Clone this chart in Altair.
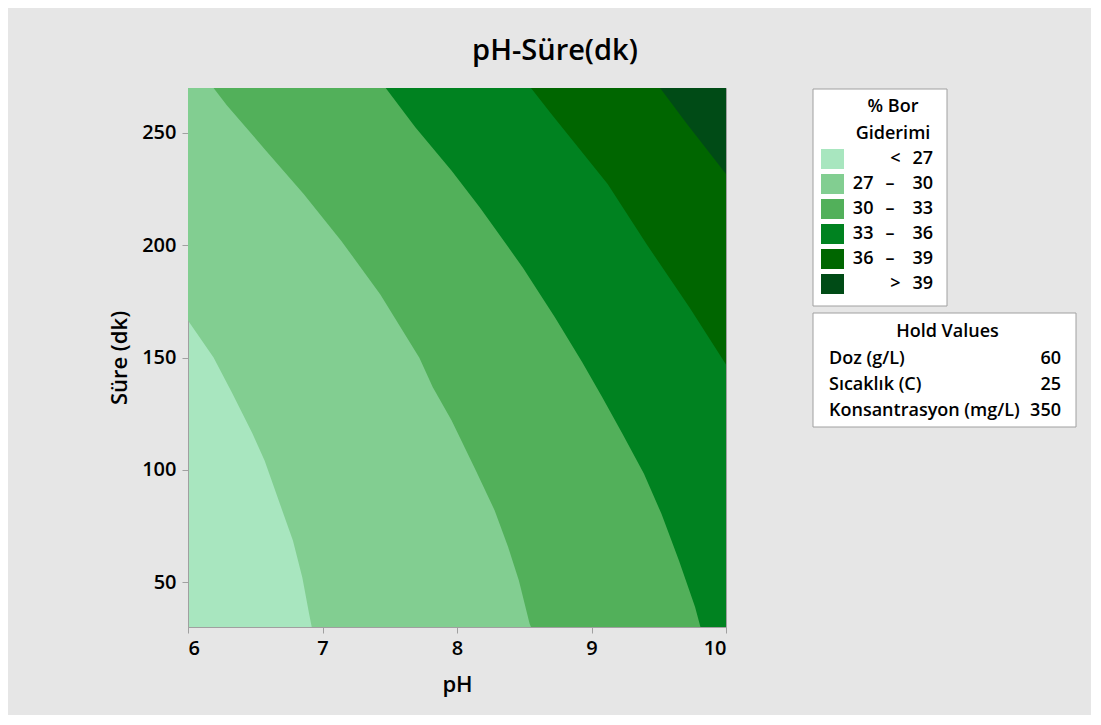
import altair as alt
import pandas as pd

# ---- data -------------------------------------------------------------
levels = ["< 27", "27 – 30", "30 – 33", "33 – 36", "36 – 39", "> 39"]
colors = ["#A8E6BF", "#82CE91", "#52B05A", "#008220", "#006600", "#004B16"]

# lower-left contour boundary of each band (band runs from boundary to pH 10)
b27_sure = [30, 36, 52, 68.5, 82, 104, 116, 134, 150, 166.5, 270]
b27_ph = [6.92, 6.90, 6.85, 6.78, 6.70, 6.57, 6.48, 6.33, 6.19, 6.0, 6.0]

b30_sure = [30, 31.5, 50.7, 65.6, 81.9, 99.7, 122, 136.8, 149.9, 178.1, 201.9, 222.8, 242.1, 262.2, 270]
b30_ph = [8.55, 8.54, 8.46, 8.38, 8.28, 8.14, 7.96, 7.82, 7.72, 7.43, 7.14, 6.86, 6.58, 6.29, 6.19]

b33_sure = [30, 38.9, 59.6, 80.4, 98.2, 116, 132.3, 148, 167.7, 190, 216.8, 233.2, 252.5, 270]
b33_ph = [9.81, 9.77, 9.65, 9.52, 9.39, 9.23, 9.08, 8.93, 8.73, 8.49, 8.17, 7.96, 7.69, 7.47]

b36_sure = [146.9, 172.2, 200.4, 227.2, 246.6, 258.5, 270]
b36_ph = [10.0, 9.73, 9.41, 9.12, 8.86, 8.70, 8.55]

b39_sure = [231.7, 254, 270]
b39_ph = [10.0, 9.71, 9.51]

legend_title = ["% Bor", "Giderimi"]
hold_title = "Hold Values"
hold_names = ["Doz (g/L)", "Sıcaklık (C)", "Konsantrasyon (mg/L)"]
hold_values = ["60", "25", "350"]

x_ticks = [6, 7, 8, 9, 10]
y_ticks = [50, 100, 150, 200, 250]

# ---- styling -------------------------------------------------------------
FONT = "Open Sans"
GRAY = "#A0A0A0"
EN, TH = "\u2002", "\u2009"


def disp(lbl):
    if lbl[0] in "<>":
        return lbl[0] + EN + TH + lbl[2:]
    a, b = lbl.split(" – ")
    return a + EN + TH + "–" + EN + EN + b


label_expr = " : ".join(
    "datum.label == '%s' ? '%s'" % (l, disp(l)) for l in levels
) + " : datum.label"

legend = alt.Legend(
    title=None,
    orient="none", legendX=633, legendY=59.5, padding=0,
    symbolType="M-1,-0.87H1V0.87H-1Z", symbolSize=529,
    symbolStrokeWidth=0, symbolOpacity=1,
    labelExpr=label_expr, labelFont=FONT, labelFontSize=18,
    labelFontWeight=600, labelColor="black", labelAlign="right",
    labelOffset=89, labelLimit=400, rowPadding=3,
)

xs = alt.Scale(domain=[6, 10], nice=False, zero=False)
ys = alt.Scale(domain=[30, 270], nice=False, zero=False)
xaxis = alt.Axis(values=x_ticks, tickSize=6, labelPadding=5, titlePadding=16)
yaxis = alt.Axis(values=y_ticks, tickSize=6, labelPadding=6, titlePadding=10)
cscale = alt.Scale(domain=levels, range=colors)

bands = [
    (levels[1], b27_sure, b27_ph),
    (levels[2], b30_sure, b30_ph),
    (levels[3], b33_sure, b33_ph),
    (levels[4], b36_sure, b36_ph),
    (levels[5], b39_sure, b39_ph),
]

layers = []
for lvl, s, p in bands:
    df = pd.DataFrame({"level": lvl, "sure": s, "ph": p}).sort_values("sure")
    layers.append(
        alt.Chart(df).mark_area(orient="horizontal", clip=True, interpolate="linear").encode(
            y=alt.Y("sure:Q", scale=ys, axis=yaxis, title="Süre (dk)"),
            x=alt.X("ph:Q", scale=xs, axis=xaxis, title="pH"),
            x2=alt.datum(10),
            color=alt.Color("level:N", scale=cscale, legend=legend),
        )
    )

one = pd.DataFrame({"k": [0]})
txt = dict(font=FONT, fontSize=18, fontWeight=600, color="black", baseline="alphabetic")

# legend frame and its two-line title
legend_box = alt.Chart(one).mark_rect(fill="white", stroke=GRAY, strokeWidth=1).encode(
    x=alt.value(625), x2=alt.value(759), y=alt.value(1), y2=alt.value(218)
)
legend_text = [
    alt.Chart(one).mark_text(align="center", **txt).encode(
        x=alt.value(705), y=alt.value(24 + 26.5 * i), text=alt.value(t)
    )
    for i, t in enumerate(legend_title)
]

# hold-values box
hold_box = alt.Chart(one).mark_rect(fill="white", stroke=GRAY, strokeWidth=1).encode(
    x=alt.value(625), x2=alt.value(888), y=alt.value(225), y2=alt.value(339)
)
hold_layers = [
    alt.Chart(one).mark_text(align="center", **txt).encode(
        x=alt.value(759.5), y=alt.value(249), text=alt.value(hold_title)
    )
]
for i, (n, v) in enumerate(zip(hold_names, hold_values)):
    hold_layers.append(
        alt.Chart(one).mark_text(align="left", **txt).encode(
            x=alt.value(641), y=alt.value(276 + 26 * i), text=alt.value(n)
        )
    )
    hold_layers.append(
        alt.Chart(one).mark_text(align="right", **txt).encode(
            x=alt.value(873), y=alt.value(276 + 26 * i), text=alt.value(v)
        )
    )

chart = (
    alt.layer(*layers, legend_box, *legend_text, hold_box, *hold_layers)
    .properties(
        width=538, height=539,
        autosize=alt.AutoSizeParams(type="none"),
        padding={"left": 180, "top": 80, "right": 365, "bottom": 88},
        background="#E6E6E6",
        title=alt.Title(
            "pH-Süre(dk)", font=FONT, fontSize=29, fontWeight=600, color="black",
            anchor="middle", dx=98, dy=27, offset=20, baseline="bottom",
        ),
    )
    .configure_view(fill=colors[0], stroke=GRAY, strokeWidth=1)
    .configure_axis(
        grid=False, domainColor=GRAY, tickColor=GRAY,
        labelFont=FONT, labelFontSize=20, labelFontWeight=600, labelColor="black",
        titleFont=FONT, titleFontSize=22, titleFontWeight=600, titleColor="black",
    )
)

chart.save("out.html", embed_options={"renderer": "svg", "actions": False})
